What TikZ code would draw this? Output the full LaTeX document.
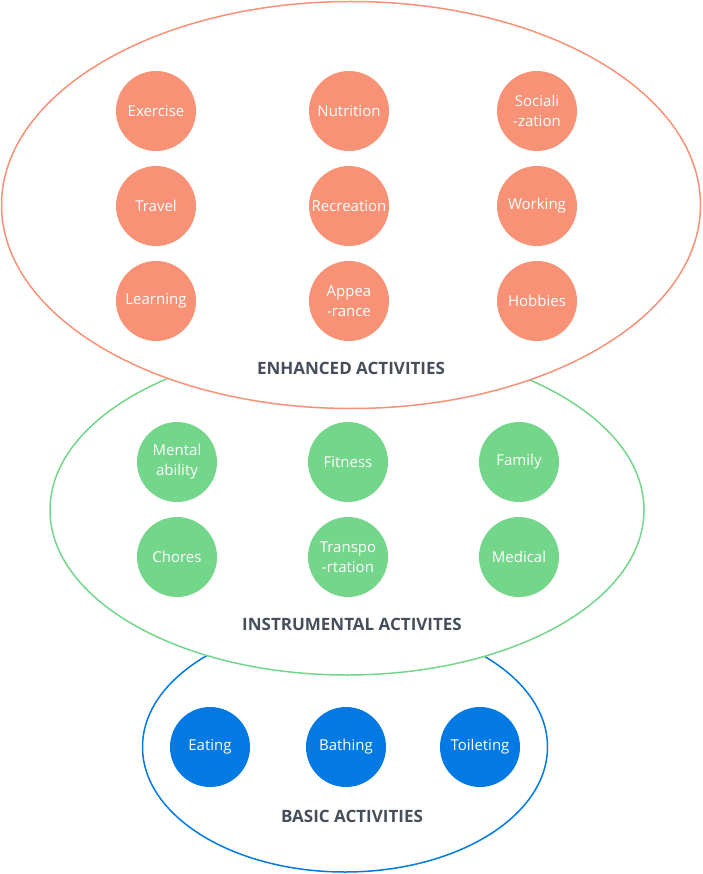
\documentclass[tikz,border=0pt]{standalone}
\usepackage{fontspec}
\setmainfont{Open Sans}
\usetikzlibrary{shapes.geometric}
\definecolor{enhcol}{HTML}{F79276}
\definecolor{inscol}{HTML}{74D68B}
\definecolor{bascol}{HTML}{0279E3}
\definecolor{titlecol}{HTML}{454F5B}
\tikzset{
  ring/.style={draw,ellipse,fill=white,line width=1.5pt,inner sep=0pt},
  act/.style={circle,minimum size=80pt,inner sep=0pt,text=white,align=center,
    font=\fontsize{15}{20}\selectfont},
  title/.style={text=titlecol,font=\fontsize{17}{19}\selectfont\bfseries},
}
\begin{document}
\begin{tikzpicture}[x=1pt,y=-1pt]
  \useasboundingbox (0,0) rectangle (702,874);
  %% rings, back to front
  \node (basicring) at (345,747) [ring,draw=bascol,minimum width=405pt,minimum height=250pt] {};
  \node (insring) at (347,510) [ring,draw=inscol,minimum width=594pt,minimum height=330pt] {};
  \node (enhring) at (351,205) [ring,draw=enhcol,minimum width=699pt,minimum height=407pt] {};
  %% enhanced
  \node (exercise) at (156,111) [act,fill=enhcol] {Exercise};
  \node (nutrition) at (349,111) [act,fill=enhcol] {Nutrition};
  \node (socialization) at (537,111) [act,fill=enhcol] {Sociali\\-zation};
  \node (travel) at (156,206) [act,fill=enhcol] {Travel};
  \node (recreation) at (349,206) [act,fill=enhcol] {Recreation};
  \node (working) at (537,206) [act,fill=enhcol] {Working};
  \node (learning) at (156,301) [act,fill=enhcol] {Learning};
  \node (appearance) at (349,301) [act,fill=enhcol] {Appea\\-rance};
  \node (hobbies) at (537,301) [act,fill=enhcol] {Hobbies};
  \node (enhanced) at (351,368) [title] {ENHANCED ACTIVITIES};
  %% instrumental
  \node (mental) at (177,462) [act,fill=inscol] {Mental\\ability};
  \node (fitness) at (348,462) [act,fill=inscol] {Fitness};
  \node (family) at (519,462) [act,fill=inscol] {Family};
  \node (chores) at (177,557) [act,fill=inscol] {Chores};
  \node (transportation) at (348,557) [act,fill=inscol] {Transpo\\-rtation};
  \node (medical) at (519,557) [act,fill=inscol] {Medical};
  \node (instrumental) at (352,624) [title] {INSTRUMENTAL ACTIVITES};
  %% basic
  \node (eating) at (210,747) [act,fill=bascol] {Eating};
  \node (bathing) at (346,747) [act,fill=bascol] {Bathing};
  \node (toileting) at (480,747) [act,fill=bascol] {Toileting};
  \node (basic) at (352,816) [title] {BASIC ACTIVITIES};
\end{tikzpicture}
\end{document}
